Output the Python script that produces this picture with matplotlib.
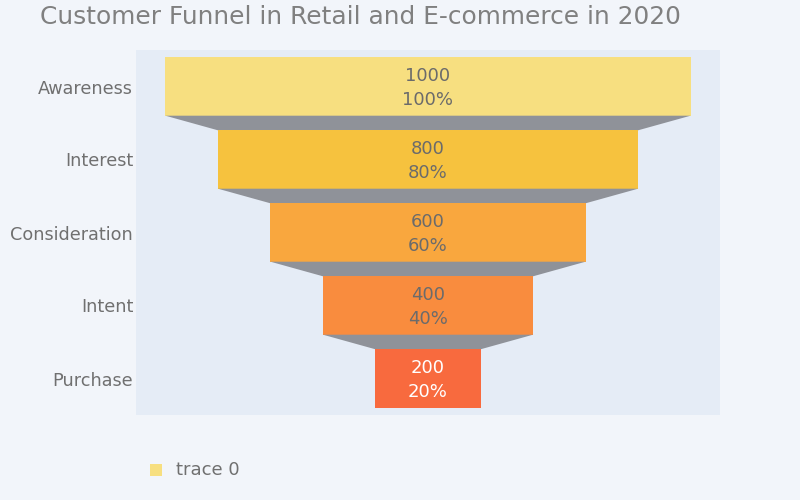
import matplotlib.pyplot as plt
from matplotlib.patches import Rectangle, Polygon

stages = ["Awareness", "Interest", "Consideration", "Intent", "Purchase"]
values = [1000, 800, 600, 400, 200]
colors = ["#f7df80", "#f6c23e", "#f9a73e", "#f98c3e", "#f86a3e"]
text_colors = ["#6b6b6b", "#6b6b6b", "#6b6b6b", "#6b6b6b", "#ffffff"]

bar_h = 0.8
grey = "#808080"

fig = plt.figure(figsize=(8, 5), dpi=100)
fig.patch.set_facecolor("#f2f5fa")
ax = fig.add_axes([0.17, 0.17, 0.73, 0.73])
ax.set_facecolor("#e5ecf6")

top = values[0]
for i, v in enumerate(values):
    ax.add_patch(Rectangle((-v / 2, i - bar_h / 2), v, bar_h,
                           facecolor=colors[i], edgecolor="none"))
    pct = round(v / top * 100)
    ax.text(0, i + 0.02, "%d\n%d%%" % (v, pct), ha="center", va="center",
            color=text_colors[i], fontsize=13, linespacing=1.4)
    if i + 1 < len(values):
        nv = values[i + 1]
        ax.add_patch(Polygon([(-v / 2, i + bar_h / 2), (v / 2, i + bar_h / 2),
                              (nv / 2, i + 1 - bar_h / 2), (-nv / 2, i + 1 - bar_h / 2)],
                             facecolor="#8f9299", edgecolor="none"))

ax.set_xlim(-556, 556)
ax.set_ylim(len(values) - 0.5, -0.5)
ax.set_yticks(range(len(values)))
ax.set_yticklabels(stages, fontsize=12.7, color="#707070")
ax.set_xticks([])
ax.tick_params(axis="y", length=0, pad=2)
for s in ax.spines.values():
    s.set_visible(False)

fig.text(0.05, 0.966, "Customer Funnel in Retail and E-commerce in 2020",
         fontsize=17.9, color=grey, va="center", ha="left")

# legend
fig.patches.append(Rectangle((150 / 800, 1 - 476 / 500), 12 / 800, 12 / 500,
                             transform=fig.transFigure, facecolor=colors[0],
                             edgecolor="none"))
fig.text(176 / 800, 1 - 470 / 500, "trace 0", fontsize=13, color="#707070",
         va="center", ha="left")

fig.savefig("out.png", dpi=100, facecolor=fig.get_facecolor())
